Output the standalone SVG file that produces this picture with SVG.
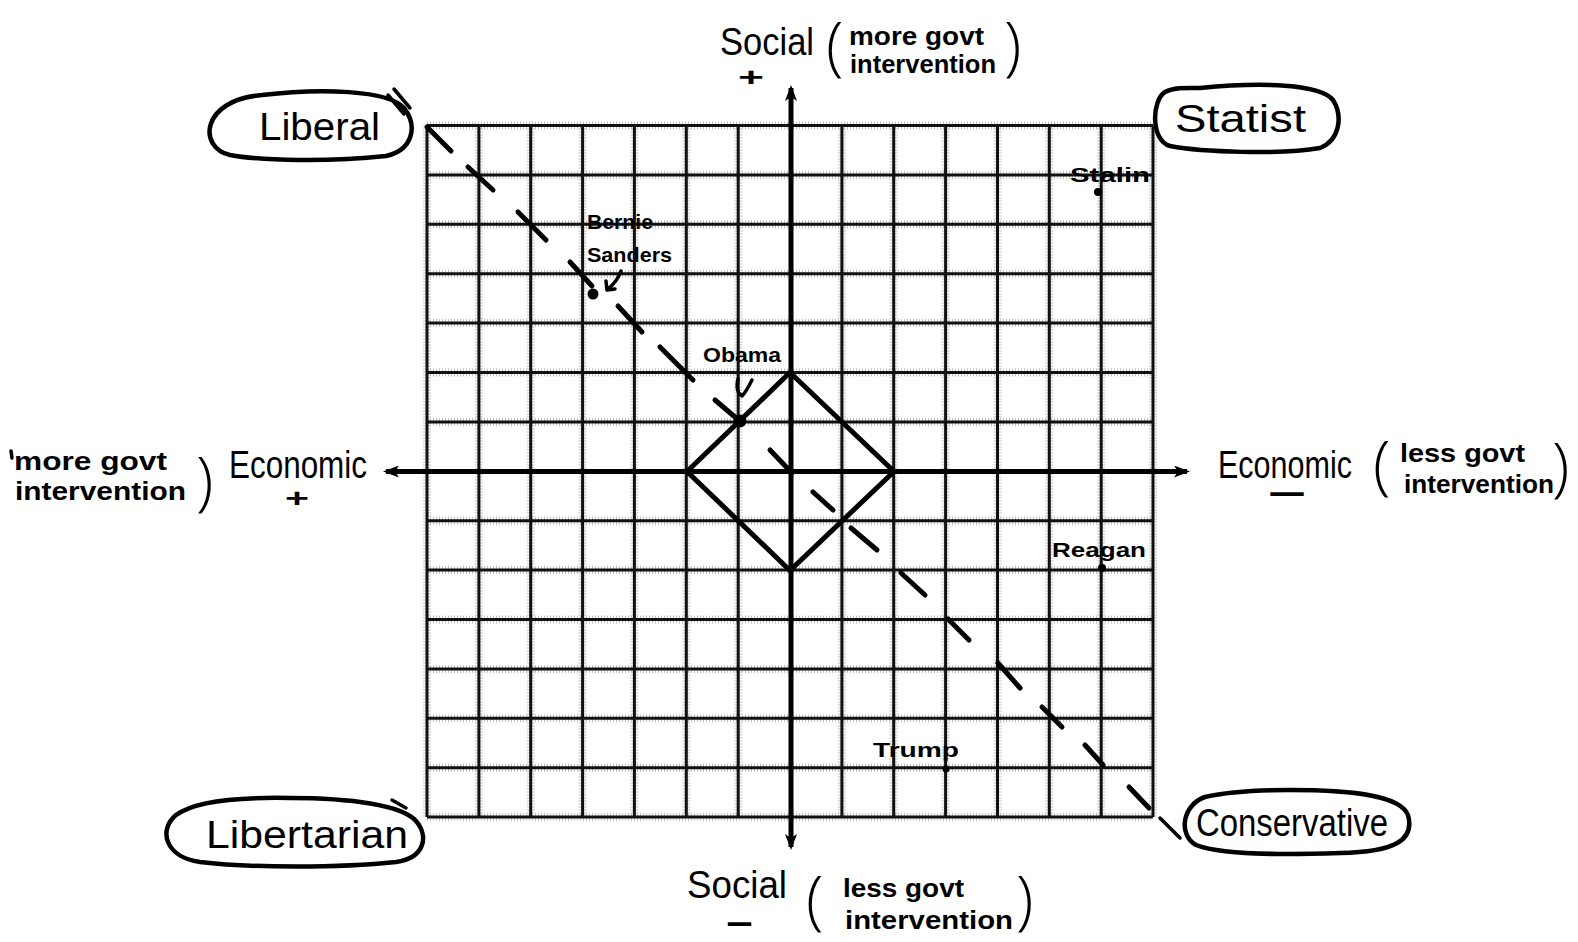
<svg xmlns="http://www.w3.org/2000/svg" width="1578" height="942" viewBox="0 0 1578 942">
<style>
  .hand{font-family:"Liberation Sans","DejaVu Sans",sans-serif;fill:#000}
  .lbl{font-size:38px}
  .sub{font-size:26px;font-weight:bold}
  .name{font-size:21px;font-weight:bold}
  .paren{font-family:"Open Sans","Liberation Sans",sans-serif;font-weight:300;font-size:64px}
  .minus{stroke:#000;stroke-width:2}
  .gl{stroke:#111;stroke-width:3;fill:none}
  .gf{stroke:#888;stroke-width:8;stroke-dasharray:1 2;fill:none;opacity:0.5}
  .axis{stroke:#000;stroke-width:5;fill:none}
  .dash{stroke:#000;stroke-width:5;stroke-linecap:round}
  .oval{stroke:#000;stroke-width:4.5;fill:none;stroke-linejoin:round;stroke-linecap:round}
  .pen{stroke:#000;stroke-width:3.5;fill:none;stroke-linecap:round;stroke-linejoin:round}
</style>
<defs>
  <marker id="arr" viewBox="0 0 16 12" refX="13" refY="6" markerWidth="16" markerHeight="12" markerUnits="userSpaceOnUse" orient="auto-start-reverse">
    <path d="M0,0 L16,6 L0,12 L4,6 Z" fill="#000"/>
  </marker>
</defs>
<rect width="1578" height="942" fill="#fff"/>

<g id="grid">
  <g class="gf">
    <path d="M427,125.5V817.1M478.9,125.5V817.1M530.7,125.5V817.1M582.6,125.5V817.1M634.4,125.5V817.1M686.3,125.5V817.1M738.2,125.5V817.1M841.9,125.5V817.1M893.7,125.5V817.1M945.6,125.5V817.1M997.5,125.5V817.1M1049.3,125.5V817.1M1101.2,125.5V817.1M1153,125.5V817.1"/>
    <path d="M427,125.5H1153M427,174.9H1153M427,224.3H1153M427,273.7H1153M427,323.1H1153M427,372.5H1153M427,421.9H1153M427,520.7H1153M427,570.1H1153M427,619.5H1153M427,668.9H1153M427,718.3H1153M427,767.7H1153M427,817.1H1153"/>
  </g>
  <g class="gl">
    <path d="M427,125.5V817.1M478.9,125.5V817.1M530.7,125.5V817.1M582.6,125.5V817.1M634.4,125.5V817.1M686.3,125.5V817.1M738.2,125.5V817.1M841.9,125.5V817.1M893.7,125.5V817.1M945.6,125.5V817.1M997.5,125.5V817.1M1049.3,125.5V817.1M1101.2,125.5V817.1M1153,125.5V817.1"/>
    <path d="M427,125.5H1153M427,174.9H1153M427,224.3H1153M427,273.7H1153M427,323.1H1153M427,372.5H1153M427,421.9H1153M427,520.7H1153M427,570.1H1153M427,619.5H1153M427,668.9H1153M427,718.3H1153M427,767.7H1153M427,817.1H1153"/>
  </g>
</g>

<g id="connectors">
  <line class="axis" x1="791" y1="88" x2="791" y2="847" marker-start="url(#arr)" marker-end="url(#arr)"/>
  <line class="axis" x1="386" y1="471.5" x2="1187" y2="471.5" marker-start="url(#arr)" marker-end="url(#arr)"/>
  <polygon class="axis" points="790,372.5 894,471.5 790,570.5 687,471.5" stroke-width="4.5"/>
  <g id="diagonal">
    <line class="dash" x1="427" y1="127" x2="451" y2="151"/>
    <line class="dash" x1="468" y1="167" x2="493" y2="190"/>
    <line class="dash" x1="518" y1="212" x2="546" y2="240"/>
    <line class="dash" x1="570" y1="262" x2="592" y2="286"/>
    <line class="dash" x1="618" y1="306" x2="642" y2="332"/>
    <line class="dash" x1="660" y1="347" x2="693" y2="380"/>
    <line class="dash" x1="715" y1="400" x2="742" y2="423"/>
    <line class="dash" x1="770" y1="450" x2="792" y2="473"/>
    <line class="dash" x1="813" y1="492" x2="833" y2="510"/>
    <line class="dash" x1="851" y1="528" x2="877" y2="550"/>
    <line class="dash" x1="901" y1="573" x2="925" y2="595"/>
    <line class="dash" x1="948" y1="619" x2="969" y2="640"/>
    <line class="dash" x1="998" y1="663" x2="1020" y2="688"/>
    <line class="dash" x1="1042" y1="707" x2="1062" y2="727"/>
    <line class="dash" x1="1085" y1="745" x2="1103" y2="765"/>
    <line class="dash" x1="1129" y1="787" x2="1149" y2="808"/>
  </g>
  <path class="pen" d="M621,271 C618,280 613,285 607,290 M607,290 L606,281 M607,290 L615,289"/>
  <path class="pen" d="M738,379 C736,388 737,393 742,396 C746,392 749,386 752,380"/>
</g>

<g id="liberal">
  <path class="oval" d="M262,95 C320,88 388,90 404,108 C418,126 413,150 386,156 C330,162 262,161 230,155 C198,148 200,100 262,95 Z"/>
  <path class="pen" d="M388,95 L404,114 M394,89 L410,108"/>
  <text class="hand lbl" x="259" y="140" font-size="40" textLength="121" lengthAdjust="spacingAndGlyphs">Liberal</text>
</g>

<g id="statist">
  <path class="oval" d="M1200,88 C1262,82 1320,84 1333,100 C1343,116 1340,140 1320,148 C1280,155 1202,152 1170,146 C1150,140 1152,100 1165,92 C1175,87 1188,88 1200,88 Z"/>
  <text class="hand lbl" x="1175" y="132" font-size="40" textLength="131" lengthAdjust="spacingAndGlyphs">Statist</text>
</g>

<g id="libertarian">
  <path class="oval" d="M290,798 C350,798 402,805 416,821 C429,836 425,858 396,862 C340,868 250,868 200,862 C165,857 158,830 176,815 C196,800 240,797 290,798 Z"/>
  <path class="pen" d="M392,800 L406,808"/>
  <text class="hand lbl" x="206" y="848" font-size="38" textLength="202" lengthAdjust="spacingAndGlyphs">Libertarian</text>
</g>

<g id="conservative">
  <path class="oval" d="M1290,790 C1350,790 1400,795 1408,815 C1415,840 1395,852 1340,853 C1280,855 1222,855 1196,845 C1178,835 1182,805 1205,797 C1230,791 1262,790 1290,790 Z"/>
  <path class="pen" d="M1160,818 L1180,838"/>
  <text class="hand lbl" x="1196" y="836" font-size="34" textLength="192" lengthAdjust="spacingAndGlyphs">Conservative</text>
</g>

<g id="social-top">
  <text class="hand lbl" x="720" y="55" textLength="94" lengthAdjust="spacingAndGlyphs">Social</text>
  <text class="hand" x="751" y="86" font-size="26" font-weight="bold" text-anchor="middle" textLength="26" lengthAdjust="spacingAndGlyphs">+</text>
  <text class="hand paren" x="826" y="68" font-size="62">(</text>
  <text class="hand sub" x="849" y="45" textLength="135" lengthAdjust="spacingAndGlyphs">more govt</text>
  <text class="hand sub" x="850" y="73" textLength="146" lengthAdjust="spacingAndGlyphs">intervention</text>
  <text class="hand paren" x="1004" y="68" font-size="62">)</text>
</g>

<g id="economic-left">
  <path class="pen" d="M11,451 L12,458"/>
  <text class="hand sub" x="14" y="470" textLength="153" lengthAdjust="spacingAndGlyphs">more govt</text>
  <text class="hand sub" x="15" y="500" textLength="171" lengthAdjust="spacingAndGlyphs">intervention</text>
  <text class="hand paren" x="196" y="503" font-size="70">)</text>
  <text class="hand lbl" x="229" y="478" textLength="138" lengthAdjust="spacingAndGlyphs">Economic</text>
  <text class="hand" x="297" y="507" font-size="26" font-weight="bold" text-anchor="middle" textLength="24" lengthAdjust="spacingAndGlyphs">+</text>
</g>

<g id="economic-right">
  <text class="hand lbl" x="1218" y="478" textLength="134" lengthAdjust="spacingAndGlyphs">Economic</text>
  <text class="hand minus" x="1272" y="499" font-size="18" font-weight="bold" textLength="30" lengthAdjust="spacingAndGlyphs">—</text>
  <text class="hand paren" x="1373" y="487" font-size="66">(</text>
  <text class="hand sub" x="1400" y="462" textLength="125" lengthAdjust="spacingAndGlyphs">less govt</text>
  <text class="hand sub" x="1404" y="493" textLength="150" lengthAdjust="spacingAndGlyphs">intervention</text>
  <text class="hand paren" x="1552" y="489" font-size="68">)</text>
</g>

<g id="social-bottom">
  <text class="hand lbl" x="687" y="898" textLength="100" lengthAdjust="spacingAndGlyphs">Social</text>
  <text class="hand minus" x="729" y="929" font-size="18" font-weight="bold" textLength="21" lengthAdjust="spacingAndGlyphs">—</text>
  <text class="hand paren" x="806" y="922" font-size="68">(</text>
  <text class="hand sub" x="843" y="897" font-size="28" textLength="121" lengthAdjust="spacingAndGlyphs">less govt</text>
  <text class="hand sub" x="845" y="929" font-size="28" textLength="168" lengthAdjust="spacingAndGlyphs">intervention</text>
  <text class="hand paren" x="1016" y="922" font-size="68">)</text>
</g>

<g id="bernie">
  <text class="hand name" x="587" y="229" textLength="66" lengthAdjust="spacingAndGlyphs">Bernie</text>
  <text class="hand name" x="587" y="262" textLength="85" lengthAdjust="spacingAndGlyphs">Sanders</text>
  <circle cx="593" cy="294" r="5.5"/>
</g>
<g id="obama">
  <text class="hand name" x="703" y="362" font-size="22" textLength="78" lengthAdjust="spacingAndGlyphs">Obama</text>
  <circle cx="740" cy="421" r="6.5"/>
</g>
<g id="stalin">
  <text class="hand name" x="1070" y="182" textLength="80" lengthAdjust="spacingAndGlyphs">Stalin</text>
  <circle cx="1098" cy="192" r="4"/>
</g>
<g id="reagan">
  <text class="hand name" x="1052" y="557" font-size="23" textLength="94" lengthAdjust="spacingAndGlyphs">Reagan</text>
  <circle cx="1102" cy="568" r="4"/>
</g>
<g id="trump">
  <text class="hand name" x="873" y="757" font-size="23" textLength="86" lengthAdjust="spacingAndGlyphs">Trump</text>
  <circle cx="946" cy="769" r="3.5"/>
</g>
</svg>
